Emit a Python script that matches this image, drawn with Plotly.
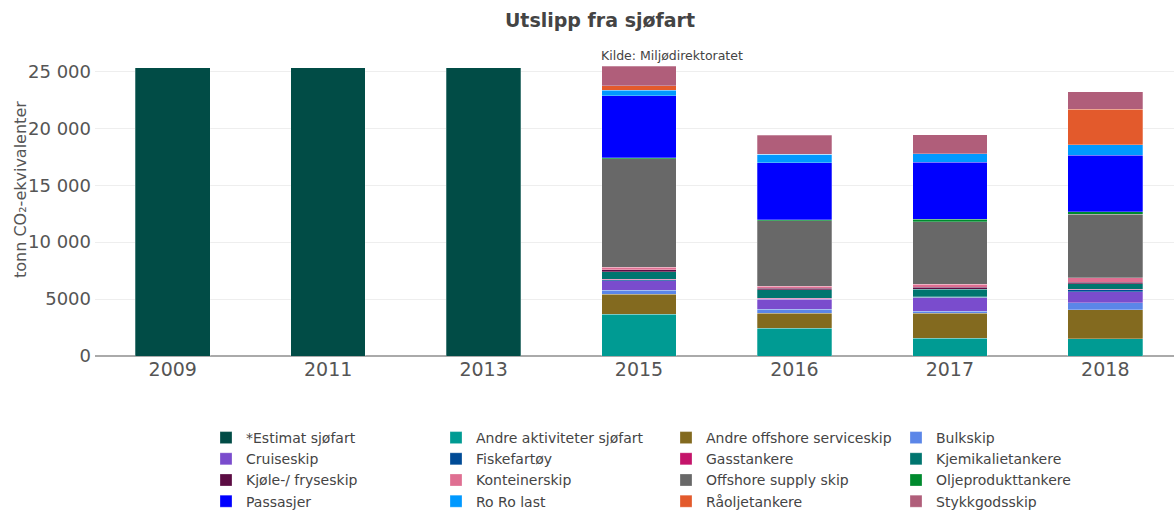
import plotly.graph_objects as go

years = ["2009", "2011", "2013", "2015", "2016", "2017", "2018"]

series_names = [
    "*Estimat sjøfart", "Andre aktiviteter sjøfart", "Andre offshore serviceskip", "Bulkskip",
    "Cruiseskip", "Fiskefartøy", "Gasstankere", "Kjemikalietankere",
    "Kjøle-/ fryseskip", "Konteinerskip", "Offshore supply skip", "Oljeprodukttankere",
    "Passasjer", "Ro Ro last", "Råoljetankere", "Stykkgodsskip",
]

estimat_sjofart = [25300, 25300, 25300, None, None, None, None]
andre_aktiviteter = [None, None, None, 3680, 2430, 1550, 1520]
andre_offshore = [None, None, None, 1750, 1340, 2190, 2540]
bulkskip = [None, None, None, 350, 320, 200, 610]
cruiseskip = [None, None, None, 850, 880, 1170, 990]
fiskefartoy = [None, None, None, 60, 50, 50, 175]
gasstankere = [None, None, None, 50, 40, 40, 50]
kjemikalietankere = [None, None, None, 670, 760, 670, 470]
kjole_fryseskip = [None, None, None, 175, 120, 150, 120]
konteinerskip = [None, None, None, 230, 200, 290, 380]
offshore_supply = [None, None, None, 9500, 5760, 5500, 5610]
oljeprodukttankere = [None, None, None, 100, 50, 200, 200]
passasjer = [None, None, None, 5440, 5030, 5030, 4970]
ro_ro_last = [None, None, None, 500, 730, 730, 940]
raoljetankere = [None, None, None, 380, 0, 0, 3100]
stykkgodsskip = [None, None, None, 1700, 1670, 1670, 1550]

series_values = [
    estimat_sjofart, andre_aktiviteter, andre_offshore, bulkskip,
    cruiseskip, fiskefartoy, gasstankere, kjemikalietankere,
    kjole_fryseskip, konteinerskip, offshore_supply, oljeprodukttankere,
    passasjer, ro_ro_last, raoljetankere, stykkgodsskip,
]

colors = [
    "#014c46", "#009b93", "#836a1f", "#5b86e8",
    "#7a4ccd", "#004b96", "#c4146a", "#00756f",
    "#5c0c43", "#df6f92", "#686868", "#008a2e",
    "#0000ff", "#0099ff", "#e35a2c", "#b05e7a",
]

y_tick_vals = [0, 5000, 10000, 15000, 20000, 25000]
y_tick_labels = ["0", "5000", "10 000", "15 000", "20 000", "25 000"]

title_text = "Utslipp fra sjøfart"
source_text = "Kilde: Miljødirektoratet"
y_title = "tonn CO₂-ekvivalenter"

FONT = "Verdana, DejaVu Sans, sans-serif"

W, H = 1174, 512
ml, mr, mt, mb = 95, 0, 60, 156
pw = W - ml - mr
ph = H - mt - mb

fig = go.Figure()
for name, vals, col in zip(series_names, series_values, colors):
    fig.add_trace(go.Bar(
        x=years, y=vals, name=name,
        marker=dict(color=col, line=dict(color="rgba(255,255,255,0.45)", width=0.6)),
    ))

def px_x(p):
    return (p - ml) / pw

def px_y(p):
    return (H - mb - p) / ph

fig.update_layout(
    width=W, height=H,
    margin=dict(l=ml, r=mr, t=mt, b=mb, autoexpand=False),
    barmode="stack",
    bargap=0.52,
    separators=", ",
    paper_bgcolor="white",
    plot_bgcolor="white",
    font=dict(family=FONT, color="#555"),
    title=dict(text="<b>" + title_text + "</b>", x=600 / W, xanchor="center",
               xref="container", y=1 - 20 / H, yanchor="middle", yref="container",
               font=dict(size=19, color="#444", family=FONT)),
    xaxis=dict(type="category", range=[-0.5, 6.5 - 9 / 155.4],
               tickfont=dict(size=19, color="#555", family=FONT),
               showgrid=False, showline=False, ticks=""),
    yaxis=dict(range=[0, 26000], tickvals=y_tick_vals, ticktext=y_tick_labels,
               tickfont=dict(size=18, color="#555", family=FONT),
               gridcolor="#eeeeee", gridwidth=1,
               zeroline=True, zerolinecolor="#aaaaaa", zerolinewidth=2,
               ticks="", ticklabelstandoff=3),
    legend=dict(orientation="h", x=px_x(206), xanchor="left", xref="paper",
                y=px_y(422), yanchor="top",
                entrywidth=185, entrywidthmode="pixels",
                font=dict(size=14, color="#444", family=FONT),
                traceorder="normal", itemclick=False),
    showlegend=True,
)

fig.add_annotation(text=source_text, xref="paper", yref="paper",
                   x=px_x(599), y=px_y(56), xanchor="left", yanchor="middle",
                   showarrow=False, font=dict(size=12.5, color="#444", family=FONT))
fig.add_annotation(text=y_title, xref="paper", yref="paper",
                   x=px_x(20), y=px_y(190), xanchor="center", yanchor="middle",
                   textangle=-90, showarrow=False,
                   font=dict(size=16, color="#555", family=FONT))

fig.write_html("out.html", config={"displayModeBar": False},
               post_script="document.body.style.margin='0';")
